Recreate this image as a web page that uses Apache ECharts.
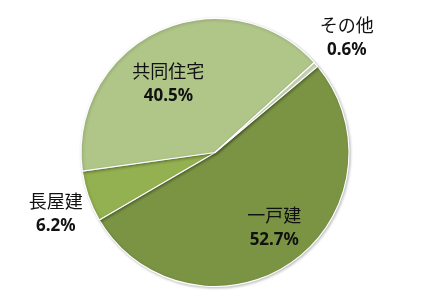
<!DOCTYPE html>
<html><head><meta charset="utf-8">
<script src="https://cdn.jsdelivr.net/npm/echarts@6/dist/echarts.min.js"></script>
<style>html,body{margin:0;padding:0;background:#fff}#c{width:428px;height:302px}</style>
</head><body><div id="c"></div>
<script>
const categories = ['一戸建', '長屋建', '共同住宅', 'その他'];
const values = [52.7, 6.2, 40.5, 0.6];
const colors = ['#7A9444', '#93B150', '#AFC688', '#D2DFBE'];
const offsets = [[19, 18], [-93, 38], [-17, -5], [79, -69]];

const chart = echarts.init(document.getElementById('c'), null, {renderer: 'canvas'});
chart.setOption({
  animation: false,
  series: [{
    type: 'pie',
    center: [215, 152.5],
    radius: [0, 134],
    startAngle: 40,
    clockwise: true,
    silent: true,
    itemStyle: {borderColor: '#fff', borderWidth: 1.2, shadowBlur: 3, shadowColor: 'rgba(0,0,0,0.25)', shadowOffsetX: 1, shadowOffsetY: 1},
    label: {
      position: 'inside',
      formatter: p => '{n|' + p.name + '}\n{v|' + p.value.toFixed(1) + '%}',
      rich: {
        n: {fontFamily: 'Noto Sans CJK JP', fontSize: 18, color: '#111', lineHeight: 25, align: 'center'},
        v: {fontFamily: 'Noto Sans', fontSize: 17, fontWeight: 'bold', color: '#111', lineHeight: 25, align: 'center'}
      }
    },
    labelLine: {show: false},
    data: categories.map((c, i) => ({
      name: c, value: values[i],
      itemStyle: {color: colors[i]},
      label: {offset: offsets[i]}
    }))
  }]
});
</script></body></html>
